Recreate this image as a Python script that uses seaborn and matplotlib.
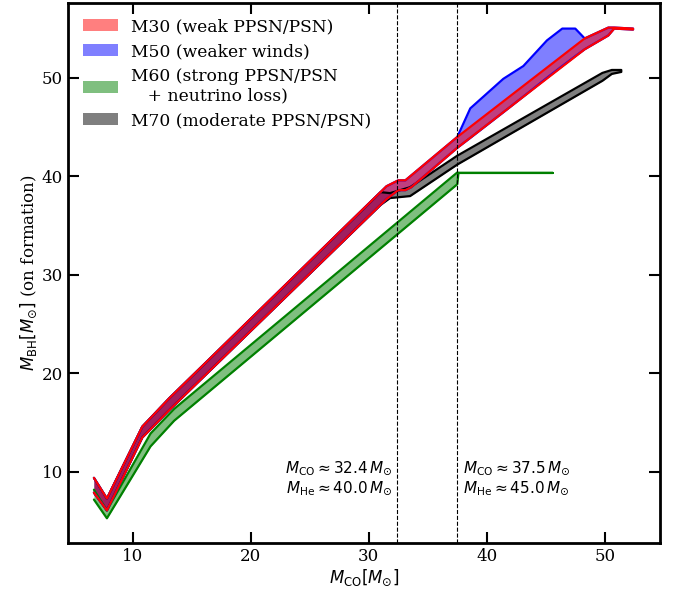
import numpy as np
import pandas as pd
import seaborn as sns
import matplotlib.pyplot as plt
from matplotlib.patches import Patch

# M30 (weak PPSN/PSN)
m30_x = [6.7, 7.8, 10.8, 13.1, 31.5, 32.5, 33.1, 33.6, 37.5, 48.3, 50.3, 50.8, 52.4]
m30_hi = [9.4, 7.3, 14.6, 17.5, 39.0, 39.6, 39.6, 40.1, 44.0, 54.0, 55.1, 55.1, 55.0]
m30_lo = [7.9, 6.1, 13.5, 16.3, 37.7, 38.6, 38.6, 38.9, 42.9, 52.9, 54.3, 55.0, 54.9]

# M50 (weaker winds)
m50_x = [6.7, 7.8, 10.8, 13.1, 31.5, 32.5, 33.1, 33.6, 37.5, 38.6, 41.4, 43.1, 45.1,
         46.4, 47.5, 48.3, 50.3, 50.8, 52.4]
m50_hi = [9.4, 7.3, 14.6, 17.5, 39.0, 39.6, 39.6, 40.1, 44.0, 46.9, 49.9, 51.2, 53.8,
          55.0, 55.0, 54.0, 55.1, 55.1, 55.0]
m50_lo = [7.9, 6.1, 13.5, 16.3, 37.7, 38.6, 38.6, 38.9, 42.9, 43.9, 46.5, 48.1, 50.0,
          51.2, 52.2, 52.9, 54.3, 55.0, 54.9]

# M60 (strong PPSN/PSN + neutrino loss)
m60_x = [6.7, 7.8, 11.5, 13.5, 37.5, 37.6, 45.6]
m60_hi = [8.2, 6.1, 13.9, 16.4, 40.4, 40.35, 40.35]
m60_lo = [7.2, 5.3, 12.6, 15.2, 39.2, 40.35, 40.35]

# M70 (moderate PPSN/PSN)
m70_x = [6.7, 7.8, 10.8, 13.1, 31.0, 31.8, 33.5, 37.5, 49.8, 50.6, 51.4]
m70_hi = [9.4, 7.3, 14.6, 17.5, 38.4, 38.3, 38.9, 42.1, 50.5, 50.8, 50.8]
m70_lo = [7.9, 6.1, 13.5, 16.3, 37.1, 37.8, 38.0, 41.2, 49.7, 50.4, 50.6]

labels = ['M30 (weak PPSN/PSN)', 'M50 (weaker winds)',
          'M60 (strong PPSN/PSN\n   + neutrino loss)', 'M70 (moderate PPSN/PSN)']
colors = ['red', 'blue', 'green', 'black']

mco_lines = [32.4, 37.5]
mhe_lines = [40.0, 45.0]

sns.set_style('ticks')
plt.rcParams['font.family'] = ['DejaVu Serif']
plt.rcParams['mathtext.fontset'] = 'dejavusans'
plt.rcParams['text.color'] = 'black'
plt.rcParams['axes.labelcolor'] = 'black'

fig = plt.figure(figsize=(6.73, 5.94), dpi=100)
ax = fig.add_axes([0.101, 0.086, 0.880, 0.909])

# draw order: M70, M60, M50, M30 (red ends on top)
bands = [(m70_x, m70_lo, m70_hi, 'black'),
         (m60_x, m60_lo, m60_hi, 'green'),
         (m50_x, m50_lo, m50_hi, 'blue'),
         (m30_x, m30_lo, m30_hi, 'red')]
for xs, lo, hi, c in bands:
    ax.fill_between(xs, lo, hi, color=c, alpha=0.5, lw=0)
    df = pd.DataFrame({'x': xs + xs[::-1], 'y': hi + lo[::-1]})
    sns.lineplot(data=df, x='x', y='y', sort=False, color=c, lw=1.6, ax=ax,
                 estimator=None, legend=False)

for xv in mco_lines:
    ax.axvline(xv, color='black', ls='--', lw=0.8)

ax.text(32.0, 9.4, r'$M_{\rm CO} \approx %.1f\,M_{\odot}$' % mco_lines[0] + '\n'
        + r'$M_{\rm He} \approx %.1f\,M_{\odot}$' % mhe_lines[0],
        ha='right', va='center', fontsize=11)
ax.text(38.0, 9.4, r'$M_{\rm CO} \approx %.1f\,M_{\odot}$' % mco_lines[1] + '\n'
        + r'$M_{\rm He} \approx %.1f\,M_{\odot}$' % mhe_lines[1],
        ha='left', va='center', fontsize=11)

ax.set_xlim(4.5, 54.7)
ax.set_ylim(2.8, 57.6)
ax.set_xticks([10, 20, 30, 40, 50])
ax.set_yticks([10, 20, 30, 40, 50])
ax.tick_params(direction='in', top=True, right=True, length=8, width=1.5,
               labelsize=12, color='black', labelcolor='black')
for s in ax.spines.values():
    s.set_linewidth(2)
    s.set_color('black')
ax.set_xlabel(r'$M_{\rm CO} [M_{\odot}]$', fontsize=12, labelpad=2)
ax.set_ylabel(r'$M_{\rm BH} [M_{\odot}]$ (on formation)', fontsize=12, labelpad=2)

handles = [Patch(facecolor=c, alpha=0.5, edgecolor='none') for c in colors]
ax.legend(handles, labels, loc='upper left', frameon=False, fontsize=12.3,
          handlelength=2.0, labelspacing=0.45)

fig.savefig('out.png', dpi=100)
